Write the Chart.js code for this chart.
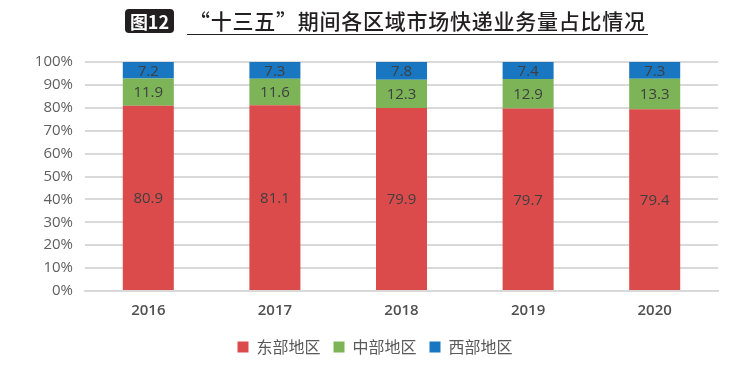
<!DOCTYPE html>
<html>
<head>
<meta charset="utf-8">
<script src="https://cdn.jsdelivr.net/npm/chart.js@4/dist/chart.umd.min.js"></script>
<style>
  html,body{margin:0;padding:0;background:#fff;}
  #wrap{position:relative;width:755px;height:365px;overflow:hidden;}
  #chart{position:absolute;left:0;top:0;}
  #title{position:absolute;left:125px;top:6px;height:30px;white-space:nowrap;font-family:"Noto Sans CJK SC",sans-serif;color:#231f20;}
  #title .tag{position:absolute;left:0;top:3px;width:49px;height:24px;background:#231f20;border-radius:4px;color:#fff;font-size:18px;line-height:24px;font-weight:700;text-align:center;}
  #title .txt{position:absolute;left:62px;top:0;font-size:21px;line-height:28px;font-weight:500;border-bottom:1px solid #231f20;padding-left:2px;padding-right:2px;letter-spacing:0.75px;}
</style>
</head>
<body>
<div id="wrap">
  <canvas id="chart" width="755" height="365"></canvas>
  <div id="title"><div class="tag">图12</div><div class="txt">“十三五”期间各区域市场快递业务量占比情况</div></div>
</div>
<script>
// 年份
const years = ['2016','2017','2018','2019','2020'];
// 各区域占比（%）
const east = [80.9, 81.1, 79.9, 79.7, 79.4];
const central = [11.9, 11.6, 12.3, 12.9, 13.3];
const west = [7.2, 7.3, 7.8, 7.4, 7.3];
const yTicks = [0,10,20,30,40,50,60,70,80,90,100];

// draw numbers in the middle of each bar piece
const barLabels = {
  id:'barLabels',
  afterDatasetsDraw(chart){
    const ctx = chart.ctx;
    ctx.save();
    ctx.font = '15px "Open Sans", sans-serif';
    ctx.fillStyle = '#3f3f3f';
    ctx.textAlign = 'center';
    ctx.textBaseline = 'middle';
    chart.data.datasets.forEach((ds,i)=>{
      const meta = chart.getDatasetMeta(i);
      meta.data.forEach((bar,j)=>{
        const y = (bar.y + bar.base)/2;
        ctx.fillText(ds.data[j].toFixed(1), bar.x, y+1);
      });
    });
    ctx.restore();
  }
};

// legend sits centred on the whole page, not only the area left of the right padding
const legendShift = {
  id:'legendShift',
  afterLayout(chart){
    const lg = chart.legend;
    if (!lg) return;
    lg.left += 16; lg.right += 16;
  }
};

new Chart(document.getElementById('chart').getContext('2d'),{
  type:'bar',
  data:{
    labels: years,
    datasets:[
      {label:'东部地区', data:east, backgroundColor:'#dc4b4b'},
      {label:'中部地区', data:central, backgroundColor:'#7cb457'},
      {label:'西部地区', data:west, backgroundColor:'#1976c0'}
    ]
  },
  options:{
    responsive:false,
    animation:false,
    layout:{padding:{top:62,right:37,left:0,bottom:0}},
    datasets:{bar:{barPercentage:0.62,categoryPercentage:0.65}},
    scales:{
      x:{
        stacked:true,
        grid:{display:false,drawTicks:false},
        border:{display:true,color:'#d9d9d9',width:2},
        ticks:{color:'#505050',padding:11,font:{family:'"Open Sans", sans-serif',size:15,weight:'600'}},
        afterFit(s){ s.height = 35; }
      },
      y:{
        stacked:true,
        min:0,max:100,
        afterBuildTicks(s){ s.ticks = yTicks.map(v=>({value:v})); },
        grid:{color:'#d9d9d9',lineWidth:2,drawTicks:false},
        border:{display:false},
        ticks:{color:'#5f5f5f',padding:12,font:{family:'"Open Sans", sans-serif',size:15},callback:v=>v+'%'},
        afterFit(s){ s.width = 85; }
      }
    },
    plugins:{
      legend:{
        position:'bottom',
        labels:{color:'#595959',boxWidth:11,boxHeight:11,padding:13,font:{family:'"Noto Sans CJK SC", sans-serif',size:16}}
      },
      tooltip:{enabled:false}
    }
  },
  plugins:[barLabels, legendShift]
});
</script>
</body>
</html>
